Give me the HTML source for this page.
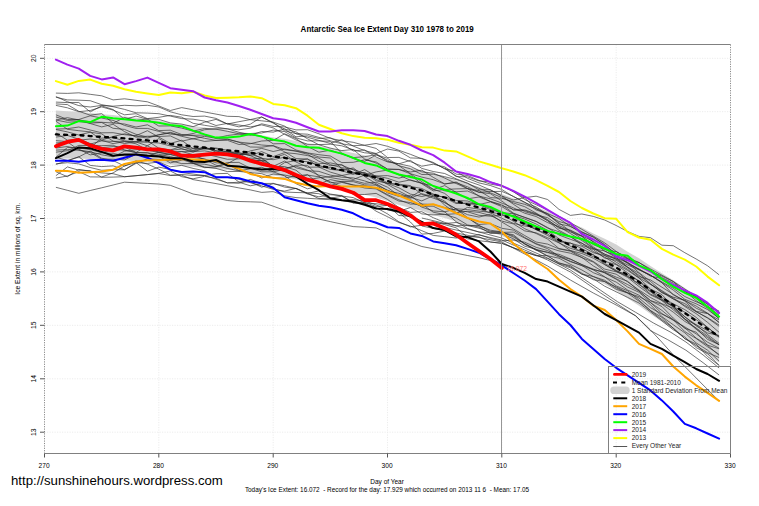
<!DOCTYPE html><html><head><meta charset="utf-8"><style>html,body{margin:0;padding:0;background:#fff;}svg{display:block;} text{font-family:"Liberation Sans",sans-serif;}</style></head><body>
<svg width="759" height="506" viewBox="0 0 759 506">
<rect width="759" height="506" fill="#fff"/>
<text transform="translate(387.2,31.5) scale(0.92,1)" x="0" y="0" font-size="8.7" font-weight="bold" text-anchor="middle" fill="#000">Antarctic Sea Ice Extent Day 310 1978 to 2019</text>
<g stroke="#ececec" stroke-width="1" stroke-dasharray="1.2,1.3"><line x1="44.5" y1="432.2" x2="730.5" y2="432.2"/><line x1="44.5" y1="378.8" x2="730.5" y2="378.8"/><line x1="44.5" y1="325.3" x2="730.5" y2="325.3"/><line x1="44.5" y1="271.9" x2="730.5" y2="271.9"/><line x1="44.5" y1="218.5" x2="730.5" y2="218.5"/><line x1="44.5" y1="165.1" x2="730.5" y2="165.1"/><line x1="44.5" y1="111.7" x2="730.5" y2="111.7"/><line x1="44.5" y1="58.3" x2="730.5" y2="58.3"/><line x1="158.8" y1="44.5" x2="158.8" y2="453.5"/><line x1="273.2" y1="44.5" x2="273.2" y2="453.5"/><line x1="387.5" y1="44.5" x2="387.5" y2="453.5"/><line x1="501.8" y1="44.5" x2="501.8" y2="453.5"/><line x1="616.2" y1="44.5" x2="616.2" y2="453.5"/></g>
<polygon points="55.9,110.4 67.4,111.2 78.8,111.8 90.2,113.1 101.7,114.2 113.1,115.1 124.5,116.4 136.0,117.7 147.4,119.1 158.8,120.4 170.3,123.0 181.7,124.6 193.1,126.0 204.6,127.5 216.0,129.1 227.4,130.5 238.9,131.7 250.3,133.2 261.7,135.2 273.2,137.5 284.6,138.7 296.0,141.0 307.5,143.5 318.9,146.0 330.3,148.3 341.8,150.6 353.2,153.0 364.6,155.2 376.1,157.6 387.5,161.0 398.9,164.9 410.4,167.5 421.8,170.2 433.2,174.1 444.7,177.0 456.1,180.4 467.5,183.8 479.0,186.7 490.4,190.1 501.8,194.0 513.3,198.3 524.7,202.6 536.1,206.9 547.6,211.2 559.0,218.0 570.4,223.0 581.9,227.6 593.3,233.4 604.7,238.7 616.2,244.5 627.6,251.7 639.0,258.3 650.5,266.0 661.9,273.2 673.3,280.3 684.8,288.0 696.2,295.7 707.6,303.3 719.1,310.5 719.1,362.5 707.6,354.7 696.2,346.3 684.8,338.0 673.3,329.7 661.9,321.8 650.5,314.0 639.0,305.7 627.6,298.3 616.2,290.5 604.7,284.3 593.3,278.6 581.9,272.4 570.4,267.4 559.0,262.0 547.6,254.8 536.1,250.1 524.7,245.4 513.3,240.7 501.8,236.0 490.4,231.9 479.0,228.3 467.5,225.2 456.1,221.6 444.7,218.0 433.2,214.9 421.8,210.8 410.4,207.9 398.9,205.1 387.5,201.0 376.1,197.4 364.6,194.8 353.2,192.4 341.8,189.8 330.3,187.3 318.9,184.8 307.5,182.1 296.0,179.4 284.6,176.9 273.2,175.5 261.7,173.6 250.3,172.0 238.9,170.9 227.4,170.1 216.0,169.1 204.6,167.9 193.1,166.8 181.7,165.8 170.3,164.6 158.8,162.4 147.4,161.7 136.0,161.1 124.5,160.4 113.1,159.7 101.7,159.6 90.2,159.1 78.8,158.4 67.4,158.6 55.9,158.4" fill="#d3d3d3" stroke="none"/>
<g fill="none" stroke="#2a2a2a" stroke-width="0.65" stroke-linejoin="round"><polyline points="55.9,96.6 67.4,101.7 78.8,105.6 90.2,107.0 101.7,105.4 113.1,106.2 124.5,105.3 136.0,105.8 147.4,105.3 158.8,107.0 170.3,111.8 181.7,114.8 193.1,116.5 204.6,116.1 216.0,118.4 227.4,124.0 238.9,126.9 250.3,124.2 261.7,117.0 273.2,122.6 284.6,130.8 296.0,133.6 307.5,134.2 318.9,137.4 330.3,140.8 341.8,143.8 353.2,145.7 364.6,145.2 376.1,143.5 387.5,146.3 398.9,150.3 410.4,154.3 421.8,158.8 433.2,163.1 444.7,168.5 456.1,176.5 467.5,176.9 479.0,180.9 490.4,181.9 501.8,185.4 513.3,191.6 524.7,199.5 536.1,204.7 547.6,210.2 559.0,216.4 570.4,222.6 581.9,229.3 593.3,236.1 604.7,242.9 616.2,251.4 627.6,258.6 639.0,265.6 650.5,271.5 661.9,276.1 673.3,281.5 684.8,289.0 696.2,296.5 707.6,304.0 719.1,311.5"/><polyline points="55.9,93.1 67.4,93.4 78.8,92.8 90.2,94.3 101.7,95.8 113.1,99.9 124.5,98.8 136.0,100.3 147.4,101.8 158.8,106.0 170.3,110.5 181.7,107.6 193.1,109.8 204.6,112.0 216.0,114.1 227.4,116.3 238.9,116.6 250.3,119.7 261.7,120.8 273.2,122.1 284.6,126.1 296.0,133.8 307.5,137.3 318.9,140.4 330.3,143.4 341.8,139.6 353.2,146.1 364.6,150.6 376.1,153.5 387.5,149.0 398.9,151.1 410.4,157.9 421.8,158.4 433.2,162.4 444.7,168.9 456.1,171.4 467.5,178.3 479.0,182.9 490.4,185.5 501.8,189.5 513.3,196.6 524.7,202.1 536.1,210.0 547.6,213.5 559.0,218.5 570.4,226.5 581.9,232.4 593.3,237.1 604.7,245.3 616.2,254.0 627.6,259.1 639.0,262.7 650.5,268.9 661.9,275.2 673.3,281.5 684.8,291.7 696.2,296.5 707.6,306.9 719.1,311.5"/><polyline points="55.9,97.2 67.4,99.9 78.8,100.2 90.2,100.7 101.7,104.7 113.1,106.7 124.5,109.4 136.0,112.8 147.4,113.1 158.8,113.7 170.3,116.1 181.7,118.6 193.1,119.2 204.6,121.1 216.0,125.5 227.4,123.4 238.9,125.0 250.3,126.9 261.7,124.9 273.2,127.9 284.6,134.3 296.0,140.0 307.5,144.3 318.9,144.6 330.3,144.2 341.8,145.8 353.2,149.8 364.6,152.8 376.1,153.7 387.5,161.4 398.9,163.8 410.4,166.3 421.8,171.9 433.2,173.1 444.7,178.1 456.1,183.5 467.5,188.6 479.0,190.6 490.4,197.6 501.8,198.3 513.3,201.5 524.7,204.3 536.1,208.7 547.6,215.2 559.0,221.5 570.4,224.7 581.9,231.8 593.3,237.0 604.7,244.5 616.2,254.2 627.6,263.7 639.0,268.9 650.5,276.1 661.9,278.5 673.3,284.9 684.8,290.8 696.2,296.6 707.6,304.4 719.1,313.0"/><polyline points="55.9,103.9 67.4,104.6 78.8,111.3 90.2,115.2 101.7,113.6 113.1,123.2 124.5,117.5 136.0,120.4 147.4,118.9 158.8,119.4 170.3,122.9 181.7,124.1 193.1,126.7 204.6,122.2 216.0,119.4 227.4,124.0 238.9,121.7 250.3,119.6 261.7,117.0 273.2,123.1 284.6,129.1 296.0,136.8 307.5,135.8 318.9,138.5 330.3,137.7 341.8,143.4 353.2,151.0 364.6,149.9 376.1,157.0 387.5,161.9 398.9,163.8 410.4,160.4 421.8,168.4 433.2,171.5 444.7,173.5 456.1,178.8 467.5,183.1 479.0,189.9 490.4,189.7 501.8,195.9 513.3,204.2 524.7,211.7 536.1,214.9 547.6,217.7 559.0,225.6 570.4,230.7 581.9,236.2 593.3,244.6 604.7,249.5 616.2,251.7 627.6,257.8 639.0,262.4 650.5,270.1 661.9,277.6 673.3,283.1 684.8,291.0 696.2,300.7 707.6,308.3 719.1,318.7"/><polyline points="55.9,105.4 67.4,107.8 78.8,111.7 90.2,110.5 101.7,106.9 113.1,110.1 124.5,114.8 136.0,113.7 147.4,118.6 158.8,117.3 170.3,115.4 181.7,117.2 193.1,123.3 204.6,125.3 216.0,127.1 227.4,128.9 238.9,129.8 250.3,128.2 261.7,123.8 273.2,126.4 284.6,126.9 296.0,129.9 307.5,129.7 318.9,133.8 330.3,138.4 341.8,140.7 353.2,142.3 364.6,145.4 376.1,148.4 387.5,157.5 398.9,157.4 410.4,161.6 421.8,166.2 433.2,164.2 444.7,166.9 456.1,174.1 467.5,175.5 479.0,180.4 490.4,184.1 501.8,186.1 513.3,191.6 524.7,198.1 536.1,208.6 547.6,213.7 559.0,224.0 570.4,226.2 581.9,232.9 593.3,242.1 604.7,251.2 616.2,255.8 627.6,262.7 639.0,269.5 650.5,275.3 661.9,281.9 673.3,288.3 684.8,296.5 696.2,301.8 707.6,306.1 719.1,315.2"/><polyline points="55.9,102.1 67.4,102.6 78.8,102.5 90.2,111.9 101.7,105.9 113.1,109.5 124.5,119.5 136.0,116.1 147.4,119.2 158.8,126.0 170.3,125.9 181.7,128.1 193.1,131.2 204.6,128.4 216.0,129.2 227.4,131.3 238.9,133.8 250.3,133.5 261.7,133.0 273.2,130.1 284.6,131.6 296.0,137.9 307.5,140.9 318.9,140.8 330.3,141.4 341.8,153.3 353.2,158.5 364.6,161.5 376.1,154.9 387.5,160.2 398.9,165.6 410.4,173.7 421.8,177.1 433.2,179.7 444.7,184.0 456.1,182.0 467.5,188.5 479.0,192.3 490.4,193.7 501.8,200.9 513.3,210.1 524.7,210.6 536.1,214.3 547.6,220.4 559.0,227.2 570.4,232.0 581.9,236.3 593.3,246.9 604.7,254.3 616.2,258.1 627.6,262.7 639.0,272.6 650.5,281.4 661.9,291.4 673.3,299.0 684.8,303.6 696.2,311.3 707.6,313.6 719.1,319.9"/><polyline points="55.9,116.9 67.4,120.5 78.8,119.9 90.2,121.8 101.7,122.3 113.1,123.0 124.5,124.0 136.0,127.0 147.4,124.8 158.8,130.6 170.3,130.2 181.7,134.5 193.1,135.7 204.6,138.3 216.0,140.4 227.4,140.3 238.9,144.5 250.3,143.7 261.7,141.0 273.2,140.4 284.6,133.8 296.0,138.6 307.5,146.4 318.9,152.2 330.3,150.2 341.8,154.0 353.2,157.6 364.6,156.7 376.1,154.6 387.5,158.3 398.9,165.7 410.4,168.8 421.8,174.5 433.2,174.2 444.7,176.7 456.1,179.5 467.5,183.4 479.0,188.3 490.4,192.9 501.8,197.5 513.3,202.9 524.7,206.7 536.1,213.1 547.6,219.6 559.0,228.3 570.4,230.1 581.9,235.8 593.3,241.4 604.7,248.4 616.2,256.5 627.6,262.4 639.0,269.4 650.5,275.1 661.9,282.7 673.3,295.0 684.8,300.5 696.2,306.1 707.6,313.2 719.1,322.5"/><polyline points="55.9,114.8 67.4,119.5 78.8,119.5 90.2,115.8 101.7,118.0 113.1,120.4 124.5,125.4 136.0,128.4 147.4,128.4 158.8,131.4 170.3,134.1 181.7,134.9 193.1,135.3 204.6,135.0 216.0,138.1 227.4,135.5 238.9,134.1 250.3,135.1 261.7,131.5 273.2,132.1 284.6,129.0 296.0,131.9 307.5,138.8 318.9,144.8 330.3,148.1 341.8,150.6 353.2,149.5 364.6,159.0 376.1,163.1 387.5,169.2 398.9,169.5 410.4,172.0 421.8,170.2 433.2,177.3 444.7,183.9 456.1,182.7 467.5,186.8 479.0,192.3 490.4,191.5 501.8,191.4 513.3,196.3 524.7,202.5 536.1,206.9 547.6,214.7 559.0,222.9 570.4,231.1 581.9,238.9 593.3,248.0 604.7,255.5 616.2,259.0 627.6,265.0 639.0,269.9 650.5,275.3 661.9,282.6 673.3,290.1 684.8,299.3 696.2,303.8 707.6,309.6 719.1,318.3"/><polyline points="55.9,120.0 67.4,122.3 78.8,121.5 90.2,123.1 101.7,122.5 113.1,128.3 124.5,129.4 136.0,134.3 147.4,137.0 158.8,134.8 170.3,132.3 181.7,135.6 193.1,133.5 204.6,129.7 216.0,128.8 227.4,128.8 238.9,132.3 250.3,134.8 261.7,136.3 273.2,143.8 284.6,143.6 296.0,150.0 307.5,152.9 318.9,154.7 330.3,156.0 341.8,162.6 353.2,162.3 364.6,159.8 376.1,161.9 387.5,169.1 398.9,169.4 410.4,173.8 421.8,181.7 433.2,189.1 444.7,193.4 456.1,202.7 467.5,203.8 479.0,204.6 490.4,201.9 501.8,206.6 513.3,213.7 524.7,217.2 536.1,221.4 547.6,227.5 559.0,235.0 570.4,239.3 581.9,243.3 593.3,248.9 604.7,250.9 616.2,257.5 627.6,267.2 639.0,276.6 650.5,279.9 661.9,287.2 673.3,294.3 684.8,301.1 696.2,311.6 707.6,318.1 719.1,326.3"/><polyline points="55.9,120.0 67.4,117.7 78.8,119.9 90.2,123.5 101.7,126.9 113.1,124.3 124.5,131.6 136.0,137.2 147.4,136.2 158.8,136.5 170.3,135.9 181.7,141.2 193.1,138.7 204.6,141.4 216.0,140.4 227.4,139.3 238.9,142.2 250.3,147.0 261.7,147.2 273.2,145.6 284.6,149.7 296.0,151.2 307.5,154.3 318.9,161.2 330.3,165.7 341.8,164.6 353.2,173.0 364.6,173.0 376.1,176.0 387.5,175.6 398.9,178.2 410.4,175.1 421.8,183.8 433.2,190.9 444.7,189.5 456.1,188.9 467.5,188.6 479.0,196.1 490.4,198.8 501.8,203.0 513.3,207.8 524.7,213.2 536.1,216.5 547.6,222.6 559.0,226.8 570.4,233.5 581.9,240.6 593.3,248.3 604.7,254.1 616.2,259.2 627.6,267.0 639.0,273.3 650.5,283.9 661.9,292.4 673.3,299.0 684.8,305.5 696.2,311.7 707.6,317.7 719.1,325.0"/><polyline points="55.9,129.5 67.4,131.9 78.8,135.0 90.2,132.2 101.7,133.9 113.1,141.1 124.5,143.5 136.0,141.9 147.4,142.3 158.8,143.0 170.3,145.9 181.7,147.1 193.1,148.4 204.6,149.1 216.0,148.6 227.4,152.4 238.9,155.4 250.3,150.9 261.7,148.4 273.2,151.5 284.6,149.0 296.0,151.0 307.5,153.2 318.9,157.0 330.3,158.0 341.8,168.6 353.2,172.2 364.6,175.3 376.1,171.9 387.5,170.1 398.9,174.9 410.4,180.3 421.8,183.0 433.2,189.6 444.7,185.6 456.1,192.3 467.5,198.8 479.0,197.0 490.4,201.5 501.8,205.5 513.3,209.3 524.7,209.9 536.1,213.6 547.6,220.8 559.0,230.4 570.4,236.4 581.9,245.2 593.3,249.5 604.7,258.0 616.2,260.3 627.6,267.5 639.0,275.3 650.5,283.9 661.9,292.7 673.3,297.2 684.8,300.3 696.2,308.2 707.6,313.5 719.1,322.4"/><polyline points="55.9,121.2 67.4,129.3 78.8,130.7 90.2,131.9 101.7,140.0 113.1,136.5 124.5,133.8 136.0,136.1 147.4,138.2 158.8,134.8 170.3,133.0 181.7,136.3 193.1,138.9 204.6,136.3 216.0,138.3 227.4,139.0 238.9,142.1 250.3,143.3 261.7,145.0 273.2,145.9 284.6,151.8 296.0,158.6 307.5,159.0 318.9,163.8 330.3,162.9 341.8,165.2 353.2,169.8 364.6,176.0 376.1,176.0 387.5,178.3 398.9,182.2 410.4,179.9 421.8,183.4 433.2,185.8 444.7,190.8 456.1,191.8 467.5,191.0 479.0,195.9 490.4,201.4 501.8,204.7 513.3,213.0 524.7,217.6 536.1,221.5 547.6,228.0 559.0,231.8 570.4,236.8 581.9,243.1 593.3,251.5 604.7,257.2 616.2,264.1 627.6,270.4 639.0,278.1 650.5,289.0 661.9,294.6 673.3,306.7 684.8,312.2 696.2,319.6 707.6,327.4 719.1,336.7"/><polyline points="55.9,129.1 67.4,128.7 78.8,127.0 90.2,130.0 101.7,132.8 113.1,132.7 124.5,134.7 136.0,135.7 147.4,130.7 158.8,137.1 170.3,143.4 181.7,140.3 193.1,148.7 204.6,148.6 216.0,148.0 227.4,150.3 238.9,155.2 250.3,152.8 261.7,158.3 273.2,159.7 284.6,157.2 296.0,161.0 307.5,161.7 318.9,165.4 330.3,169.3 341.8,170.7 353.2,167.9 364.6,176.5 376.1,183.6 387.5,190.8 398.9,193.3 410.4,197.3 421.8,200.9 433.2,195.7 444.7,196.9 456.1,200.4 467.5,201.0 479.0,204.6 490.4,209.7 501.8,212.6 513.3,213.8 524.7,223.0 536.1,229.7 547.6,234.0 559.0,241.8 570.4,243.0 581.9,248.6 593.3,254.8 604.7,264.4 616.2,271.3 627.6,277.4 639.0,286.5 650.5,294.9 661.9,300.4 673.3,306.4 684.8,319.4 696.2,324.7 707.6,330.6 719.1,337.2"/><polyline points="55.9,132.9 67.4,140.2 78.8,139.6 90.2,144.1 101.7,140.9 113.1,141.4 124.5,141.3 136.0,142.0 147.4,145.8 158.8,152.0 170.3,150.4 181.7,149.0 193.1,150.9 204.6,148.3 216.0,151.0 227.4,153.5 238.9,153.0 250.3,155.6 261.7,151.6 273.2,156.6 284.6,152.6 296.0,153.7 307.5,155.6 318.9,158.2 330.3,164.6 341.8,167.7 353.2,169.2 364.6,173.6 376.1,180.8 387.5,183.4 398.9,187.8 410.4,194.1 421.8,196.5 433.2,194.1 444.7,205.1 456.1,213.3 467.5,207.4 479.0,209.1 490.4,212.9 501.8,218.3 513.3,223.3 524.7,226.0 536.1,227.2 547.6,231.9 559.0,240.8 570.4,243.2 581.9,246.3 593.3,252.7 604.7,255.5 616.2,262.1 627.6,269.3 639.0,277.7 650.5,284.5 661.9,290.6 673.3,297.9 684.8,306.5 696.2,313.7 707.6,322.4 719.1,332.3"/><polyline points="55.9,144.7 67.4,140.9 78.8,139.2 90.2,143.5 101.7,147.7 113.1,146.6 124.5,147.1 136.0,152.4 147.4,145.8 158.8,138.6 170.3,145.1 181.7,148.7 193.1,152.2 204.6,147.9 216.0,150.6 227.4,151.6 238.9,152.5 250.3,155.6 261.7,160.6 273.2,170.1 284.6,162.6 296.0,160.6 307.5,159.0 318.9,167.1 330.3,167.3 341.8,170.7 353.2,174.5 364.6,169.6 376.1,176.5 387.5,182.9 398.9,185.1 410.4,186.4 421.8,188.5 433.2,194.1 444.7,197.8 456.1,203.5 467.5,203.0 479.0,204.1 490.4,208.3 501.8,213.1 513.3,216.2 524.7,224.4 536.1,229.5 547.6,235.5 559.0,242.7 570.4,250.5 581.9,253.5 593.3,258.2 604.7,264.7 616.2,271.0 627.6,274.7 639.0,280.7 650.5,289.5 661.9,297.4 673.3,303.8 684.8,309.6 696.2,317.4 707.6,327.4 719.1,336.6"/><polyline points="55.9,137.1 67.4,135.4 78.8,139.2 90.2,147.9 101.7,138.1 113.1,137.6 124.5,140.9 136.0,141.7 147.4,140.8 158.8,148.2 170.3,150.0 181.7,146.3 193.1,150.4 204.6,146.5 216.0,152.3 227.4,151.9 238.9,153.8 250.3,159.4 261.7,161.1 273.2,158.1 284.6,154.3 296.0,162.0 307.5,167.2 318.9,167.1 330.3,172.1 341.8,175.4 353.2,179.5 364.6,175.0 376.1,177.3 387.5,184.4 398.9,191.0 410.4,196.9 421.8,190.3 433.2,195.8 444.7,201.0 456.1,212.6 467.5,211.2 479.0,212.4 490.4,215.5 501.8,221.1 513.3,223.9 524.7,230.9 536.1,232.8 547.6,237.7 559.0,242.9 570.4,248.3 581.9,251.7 593.3,254.8 604.7,263.3 616.2,270.2 627.6,276.4 639.0,284.0 650.5,294.1 661.9,299.6 673.3,307.2 684.8,316.7 696.2,325.9 707.6,333.0 719.1,335.5"/><polyline points="55.9,143.0 67.4,141.9 78.8,150.0 90.2,151.7 101.7,154.8 113.1,156.8 124.5,151.2 136.0,149.7 147.4,148.9 158.8,152.2 170.3,151.5 181.7,151.6 193.1,151.6 204.6,150.9 216.0,152.8 227.4,155.2 238.9,154.3 250.3,154.2 261.7,157.8 273.2,166.4 284.6,168.2 296.0,166.1 307.5,170.1 318.9,175.2 330.3,177.5 341.8,179.5 353.2,180.5 364.6,183.3 376.1,182.2 387.5,187.2 398.9,195.8 410.4,199.5 421.8,207.1 433.2,210.9 444.7,211.8 456.1,209.0 467.5,214.7 479.0,217.1 490.4,214.2 501.8,222.0 513.3,228.8 524.7,235.5 536.1,242.0 547.6,244.1 559.0,248.9 570.4,251.2 581.9,257.7 593.3,262.1 604.7,271.2 616.2,274.2 627.6,281.8 639.0,290.0 650.5,297.5 661.9,303.7 673.3,308.3 684.8,318.8 696.2,328.5 707.6,339.4 719.1,344.6"/><polyline points="55.9,157.2 67.4,147.5 78.8,147.9 90.2,149.6 101.7,152.7 113.1,149.5 124.5,150.2 136.0,152.5 147.4,152.9 158.8,156.2 170.3,162.9 181.7,160.2 193.1,155.3 204.6,159.4 216.0,165.2 227.4,168.4 238.9,170.9 250.3,168.8 261.7,167.3 273.2,171.8 284.6,169.4 296.0,165.2 307.5,165.4 318.9,176.3 330.3,182.9 341.8,181.4 353.2,181.7 364.6,184.9 376.1,185.2 387.5,192.9 398.9,196.4 410.4,195.6 421.8,204.1 433.2,204.4 444.7,207.5 456.1,210.1 467.5,211.8 479.0,215.3 490.4,216.2 501.8,215.4 513.3,215.5 524.7,219.0 536.1,224.0 547.6,230.4 559.0,238.8 570.4,246.2 581.9,251.9 593.3,256.6 604.7,261.3 616.2,264.6 627.6,272.8 639.0,281.6 650.5,291.2 661.9,298.9 673.3,306.5 684.8,316.9 696.2,324.9 707.6,334.6 719.1,343.3"/><polyline points="55.9,148.0 67.4,146.5 78.8,149.1 90.2,154.9 101.7,152.9 113.1,153.3 124.5,155.9 136.0,154.4 147.4,155.1 158.8,155.8 170.3,153.9 181.7,151.5 193.1,154.6 204.6,153.9 216.0,156.5 227.4,159.3 238.9,158.9 250.3,158.1 261.7,158.7 273.2,166.3 284.6,161.1 296.0,167.8 307.5,170.6 318.9,171.4 330.3,175.1 341.8,177.2 353.2,177.9 364.6,180.9 376.1,184.7 387.5,190.1 398.9,195.0 410.4,198.2 421.8,193.7 433.2,196.7 444.7,202.8 456.1,208.8 467.5,209.6 479.0,211.1 490.4,212.4 501.8,214.0 513.3,221.2 524.7,228.7 536.1,233.5 547.6,239.1 559.0,248.5 570.4,250.7 581.9,255.8 593.3,261.5 604.7,269.1 616.2,271.8 627.6,276.2 639.0,284.5 650.5,291.8 661.9,300.6 673.3,309.9 684.8,319.2 696.2,329.3 707.6,337.6 719.1,344.9"/><polyline points="55.9,140.6 67.4,141.6 78.8,140.2 90.2,139.0 101.7,140.4 113.1,143.6 124.5,141.7 136.0,143.8 147.4,150.1 158.8,152.6 170.3,154.4 181.7,156.3 193.1,157.4 204.6,158.9 216.0,162.8 227.4,163.7 238.9,157.4 250.3,160.3 261.7,160.4 273.2,166.3 284.6,166.6 296.0,170.2 307.5,179.7 318.9,177.8 330.3,176.6 341.8,175.5 353.2,173.2 364.6,172.5 376.1,179.5 387.5,183.5 398.9,184.2 410.4,185.6 421.8,194.3 433.2,198.1 444.7,202.3 456.1,208.9 467.5,217.5 479.0,225.8 490.4,230.2 501.8,231.9 513.3,235.9 524.7,243.9 536.1,250.3 547.6,252.1 559.0,257.0 570.4,261.2 581.9,265.7 593.3,269.7 604.7,272.1 616.2,277.1 627.6,281.3 639.0,291.0 650.5,300.7 661.9,306.5 673.3,318.1 684.8,328.4 696.2,332.2 707.6,345.4 719.1,355.3"/><polyline points="55.9,150.1 67.4,149.6 78.8,150.3 90.2,152.5 101.7,159.1 113.1,159.2 124.5,159.9 136.0,154.3 147.4,156.1 158.8,152.2 170.3,154.5 181.7,157.7 193.1,163.2 204.6,167.0 216.0,168.4 227.4,171.6 238.9,171.4 250.3,172.6 261.7,173.7 273.2,177.9 284.6,178.1 296.0,176.0 307.5,174.6 318.9,184.1 330.3,179.6 341.8,181.8 353.2,184.9 364.6,188.0 376.1,188.9 387.5,195.4 398.9,201.1 410.4,202.5 421.8,206.2 433.2,206.2 444.7,211.8 456.1,221.7 467.5,228.4 479.0,232.0 490.4,232.6 501.8,233.9 513.3,238.7 524.7,246.2 536.1,249.3 547.6,252.6 559.0,254.3 570.4,259.0 581.9,264.7 593.3,269.1 604.7,272.9 616.2,279.3 627.6,287.0 639.0,292.3 650.5,302.6 661.9,310.4 673.3,319.7 684.8,331.6 696.2,338.5 707.6,346.8 719.1,354.4"/><polyline points="55.9,152.2 67.4,150.7 78.8,145.4 90.2,145.6 101.7,145.7 113.1,145.2 124.5,150.0 136.0,152.6 147.4,152.8 158.8,154.3 170.3,156.6 181.7,159.4 193.1,163.4 204.6,167.7 216.0,166.8 227.4,163.8 238.9,170.6 250.3,172.6 261.7,178.0 273.2,174.0 284.6,175.0 296.0,177.4 307.5,175.1 318.9,176.8 330.3,181.8 341.8,186.8 353.2,194.4 364.6,194.5 376.1,193.4 387.5,199.4 398.9,207.5 410.4,212.4 421.8,211.7 433.2,217.7 444.7,222.4 456.1,225.7 467.5,225.6 479.0,228.2 490.4,232.2 501.8,232.4 513.3,232.1 524.7,238.1 536.1,244.1 547.6,248.7 559.0,256.1 570.4,259.3 581.9,264.5 593.3,269.8 604.7,276.8 616.2,285.9 627.6,290.8 639.0,300.1 650.5,310.7 661.9,319.6 673.3,328.1 684.8,338.7 696.2,345.7 707.6,352.7 719.1,357.5"/><polyline points="55.9,163.9 67.4,162.7 78.8,163.9 90.2,167.5 101.7,170.3 113.1,169.7 124.5,169.8 136.0,163.4 147.4,158.8 158.8,159.5 170.3,160.7 181.7,163.6 193.1,163.5 204.6,164.2 216.0,166.6 227.4,162.5 238.9,162.4 250.3,168.2 261.7,171.8 273.2,171.8 284.6,175.9 296.0,183.7 307.5,188.8 318.9,185.8 330.3,185.5 341.8,182.4 353.2,185.1 364.6,185.8 376.1,188.2 387.5,194.6 398.9,199.8 410.4,204.1 421.8,203.9 433.2,212.2 444.7,214.5 456.1,213.7 467.5,218.0 479.0,224.5 490.4,223.6 501.8,228.3 513.3,230.1 524.7,237.4 536.1,243.6 547.6,247.3 559.0,250.9 570.4,253.2 581.9,257.4 593.3,265.9 604.7,272.7 616.2,278.7 627.6,284.5 639.0,291.0 650.5,300.6 661.9,304.2 673.3,312.2 684.8,321.4 696.2,328.0 707.6,336.2 719.1,344.7"/><polyline points="55.9,157.3 67.4,160.5 78.8,156.9 90.2,151.0 101.7,158.2 113.1,160.5 124.5,166.1 136.0,160.9 147.4,164.1 158.8,169.1 170.3,175.2 181.7,174.5 193.1,175.5 204.6,175.5 216.0,179.2 227.4,182.8 238.9,183.3 250.3,179.4 261.7,183.5 273.2,183.4 284.6,187.1 296.0,188.5 307.5,194.0 318.9,196.8 330.3,194.7 341.8,195.5 353.2,203.1 364.6,203.7 376.1,207.6 387.5,213.9 398.9,221.8 410.4,226.9 421.8,225.2 433.2,221.7 444.7,224.6 456.1,227.8 467.5,237.1 479.0,234.5 490.4,238.5 501.8,240.9 513.3,240.0 524.7,242.2 536.1,247.3 547.6,250.6 559.0,255.8 570.4,261.7 581.9,265.5 593.3,272.7 604.7,277.1 616.2,282.1 627.6,290.0 639.0,295.2 650.5,304.7 661.9,316.6 673.3,324.8 684.8,332.8 696.2,342.9 707.6,350.2 719.1,361.2"/><polyline points="55.9,164.3 67.4,160.9 78.8,156.8 90.2,165.4 101.7,166.6 113.1,165.9 124.5,169.7 136.0,162.6 147.4,163.4 158.8,162.0 170.3,166.8 181.7,165.4 193.1,168.4 204.6,170.8 216.0,177.3 227.4,177.4 238.9,179.2 250.3,182.7 261.7,185.9 273.2,189.3 284.6,191.1 296.0,188.3 307.5,193.2 318.9,198.6 330.3,198.2 341.8,196.2 353.2,202.2 364.6,202.4 376.1,206.5 387.5,205.4 398.9,215.5 410.4,216.3 421.8,222.8 433.2,222.8 444.7,223.5 456.1,222.5 467.5,225.6 479.0,225.4 490.4,231.4 501.8,232.0 513.3,237.0 524.7,243.7 536.1,250.0 547.6,256.3 559.0,262.6 570.4,266.9 581.9,273.1 593.3,279.7 604.7,281.6 616.2,286.9 627.6,292.6 639.0,298.1 650.5,307.7 661.9,314.1 673.3,319.7 684.8,327.7 696.2,338.1 707.6,345.2 719.1,348.8"/><polyline points="55.9,178.1 67.4,176.0 78.8,171.6 90.2,176.9 101.7,177.0 113.1,172.9 124.5,165.9 136.0,162.5 147.4,171.2 158.8,167.1 170.3,169.5 181.7,172.5 193.1,174.1 204.6,175.5 216.0,173.7 227.4,173.4 238.9,182.0 250.3,181.8 261.7,187.2 273.2,183.7 284.6,185.7 296.0,188.6 307.5,193.4 318.9,190.9 330.3,194.0 341.8,196.0 353.2,197.6 364.6,202.8 376.1,203.7 387.5,205.5 398.9,211.4 410.4,207.5 421.8,213.9 433.2,214.9 444.7,214.3 456.1,218.0 467.5,224.9 479.0,226.9 490.4,233.5 501.8,232.9 513.3,234.7 524.7,243.9 536.1,249.4 547.6,255.8 559.0,258.2 570.4,264.3 581.9,270.0 593.3,276.6 604.7,281.6 616.2,289.3 627.6,292.9 639.0,296.6 650.5,302.4 661.9,313.5 673.3,320.3 684.8,326.9 696.2,333.9 707.6,342.2 719.1,348.2"/><polyline points="55.9,171.7 67.4,176.7 78.8,169.4 90.2,171.3 101.7,172.9 113.1,173.7 124.5,176.8 136.0,175.7 147.4,174.6 158.8,173.3 170.3,171.0 181.7,176.7 193.1,178.8 204.6,176.3 216.0,178.3 227.4,182.9 238.9,182.2 250.3,185.8 261.7,183.7 273.2,188.6 284.6,192.0 296.0,192.5 307.5,192.8 318.9,193.7 330.3,198.6 341.8,200.4 353.2,199.7 364.6,200.9 376.1,205.0 387.5,209.8 398.9,212.6 410.4,222.0 421.8,234.1 433.2,233.4 444.7,231.0 456.1,233.5 467.5,238.8 479.0,240.7 490.4,242.0 501.8,243.3 513.3,247.7 524.7,252.0 536.1,255.6 547.6,258.6 559.0,263.9 570.4,267.8 581.9,274.2 593.3,278.8 604.7,286.2 616.2,291.8 627.6,297.4 639.0,303.0 650.5,311.9 661.9,320.8 673.3,329.8 684.8,337.0 696.2,347.6 707.6,353.7 719.1,365.4"/><polyline points="55.9,175.7 67.4,166.9 78.8,170.2 90.2,170.6 101.7,177.3 113.1,177.1 124.5,176.7 136.0,175.7 147.4,174.6 158.8,173.5 170.3,175.5 181.7,175.3 193.1,179.6 204.6,181.6 216.0,183.6 227.4,185.7 238.9,187.9 250.3,189.9 261.7,192.4 273.2,191.6 284.6,195.8 296.0,197.6 307.5,198.3 318.9,199.0 330.3,199.7 341.8,200.4 353.2,202.7 364.6,203.0 376.1,211.2 387.5,216.7 398.9,222.5 410.4,226.1 421.8,230.7 433.2,235.4 444.7,236.7 456.1,238.0 467.5,236.9 479.0,236.8 490.4,242.0 501.8,243.3 513.3,247.7 524.7,252.0 536.1,255.6 547.6,255.6 559.0,263.2 570.4,265.6 581.9,274.2 593.3,276.5 604.7,280.3 616.2,287.8 627.6,293.1 639.0,301.2 650.5,310.5 661.9,317.4 673.3,328.3 684.8,338.7 696.2,344.0 707.6,356.5 719.1,365.4"/><polyline points="55.9,187.3 67.4,190.3 78.8,193.3 90.2,190.5 101.7,187.8 113.1,185.0 124.5,182.2 136.0,182.8 147.4,183.4 158.8,184.0 170.3,185.3 181.7,189.6 193.1,194.0 204.6,196.0 216.0,198.0 227.4,200.5 238.9,201.5 250.3,201.8 261.7,202.2 273.2,206.2 284.6,210.3 296.0,213.2 307.5,216.1 318.9,219.1 330.3,221.6 341.8,224.1 353.2,226.6 364.6,227.2 376.1,227.9 387.5,232.9 398.9,237.9 410.4,242.3 421.8,246.5 433.2,248.7 444.7,251.0 456.1,253.2 467.5,255.5 479.0,257.7 490.4,260.5 501.8,263.0"/><polyline points="444.7,168.0 456.1,176.0 467.5,181.0 479.0,185.0 490.4,190.0 501.8,196.0 513.3,200.0 524.7,197.6 536.1,196.2 547.6,199.5 559.0,209.4 570.4,215.4 581.9,214.0 593.3,216.4 604.7,220.0 616.2,225.5 627.6,231.5 639.0,236.4 650.5,237.7 661.9,245.2 673.3,245.7 684.8,252.7 696.2,259.0 707.6,265.8 719.1,274.8"/><polyline points="421.8,218.0 456.1,226.0 501.8,238.0 524.7,248.0 547.6,258.0 570.4,270.0 600.2,290.0 617.3,301.6 635.6,312.3 653.3,322.9 671.0,332.4 685.9,342.0 703.1,355.0 719.1,368.0"/><polyline points="421.8,222.0 456.1,230.0 501.8,240.0 524.7,250.0 547.6,260.0 570.4,272.0 600.2,292.7 617.3,304.0 635.6,315.8 650.5,330.7 667.6,339.6 685.9,350.2 703.1,362.7 719.1,375.0"/><polyline points="421.8,226.0 456.1,233.0 501.8,242.0 524.7,254.0 547.6,266.0 570.4,280.0 593.3,293.0 616.2,305.0 635.6,315.8 650.5,330.0 660.8,341.0 673.3,355.0 689.3,371.0 703.1,385.0 719.1,401.0"/></g>
<polyline points="55.9,81.1 67.4,84.7 78.8,80.9 90.2,79.6 101.7,83.7 113.1,85.7 124.5,89.2 136.0,91.7 147.4,93.4 158.8,95.0 170.3,92.4 181.7,93.2 193.1,91.7 204.6,95.5 216.0,98.0 227.4,97.7 238.9,97.2 250.3,96.4 261.7,98.2 273.2,103.9 284.6,105.2 296.0,108.2 307.5,115.7 318.9,124.8 330.3,129.0 341.8,133.3 353.2,136.1 364.6,137.8 376.1,138.3 387.5,139.8 398.9,142.8 410.4,144.8 421.8,147.3 433.2,147.6 444.7,150.6 456.1,151.4 467.5,156.4 479.0,161.4 490.4,164.7 501.8,168.2 513.3,171.5 524.7,175.2 536.1,180.2 547.6,185.8 559.0,192.0 570.4,201.0 581.9,208.0 593.3,213.5 604.7,218.2 616.2,218.8 627.6,232.1 639.0,237.5 650.5,239.7 661.9,248.9 673.3,254.7 684.8,259.7 696.2,266.5 707.6,276.6 719.1,285.3" fill="none" stroke="#ffff00" stroke-width="2.0" stroke-linejoin="round" stroke-linecap="round" />
<polyline points="55.9,59.6 67.4,64.6 78.8,68.6 90.2,75.9 101.7,79.4 113.1,77.4 124.5,84.2 136.0,81.1 147.4,77.6 158.8,82.9 170.3,88.2 181.7,89.7 193.1,91.2 204.6,97.5 216.0,100.2 227.4,102.5 238.9,106.0 250.3,109.7 261.7,114.0 273.2,118.2 284.6,119.7 296.0,122.8 307.5,127.3 318.9,131.5 330.3,131.5 341.8,130.3 353.2,130.3 364.6,131.0 376.1,134.5 387.5,136.1 398.9,140.8 410.4,144.8 421.8,150.5 433.2,155.1 444.7,162.7 456.1,171.5 467.5,174.0 479.0,177.2 490.4,182.2 501.8,185.8 513.3,190.8 524.7,196.6 536.1,202.8 547.6,209.9 559.0,216.6 570.4,222.9 581.9,234.0 593.3,239.5 604.7,246.0 616.2,256.5 627.6,260.2 639.0,265.8 650.5,271.5 661.9,279.1 673.3,284.8 684.8,290.4 696.2,295.4 707.6,302.9 719.1,313.0" fill="none" stroke="#a020f0" stroke-width="2.0" stroke-linejoin="round" stroke-linecap="round" />
<polyline points="55.9,126.3 67.4,125.6 78.8,121.1 90.2,122.1 101.7,116.8 113.1,118.3 124.5,119.3 136.0,120.6 147.4,121.3 158.8,122.8 170.3,125.1 181.7,126.3 193.1,130.6 204.6,134.4 216.0,137.6 227.4,137.4 238.9,136.6 250.3,134.0 261.7,136.6 273.2,139.8 284.6,141.6 296.0,145.8 307.5,147.3 318.9,147.8 330.3,150.9 341.8,153.6 353.2,157.9 364.6,162.9 376.1,165.4 387.5,170.5 398.9,174.5 410.4,177.0 421.8,179.5 433.2,186.0 444.7,189.8 456.1,193.5 467.5,198.0 479.0,204.3 490.4,207.0 501.8,212.3 513.3,216.5 524.7,221.5 536.1,226.5 547.6,230.9 559.0,233.7 570.4,236.5 581.9,239.0 593.3,243.5 604.7,248.5 616.2,254.0 627.6,255.7 639.0,265.3 650.5,270.3 661.9,279.1 673.3,286.6 684.8,292.9 696.2,297.9 707.6,306.7 719.1,316.7" fill="none" stroke="#00ff00" stroke-width="2.0" stroke-linejoin="round" stroke-linecap="round" />
<polyline points="55.9,160.7 67.4,160.7 78.8,161.7 90.2,160.2 101.7,159.7 113.1,160.7 124.5,157.7 136.0,154.4 147.4,157.7 158.8,163.2 170.3,169.7 181.7,172.0 193.1,171.5 204.6,172.2 216.0,177.2 227.4,177.2 238.9,178.2 250.3,181.4 261.7,183.2 273.2,187.7 284.6,197.2 296.0,200.2 307.5,203.3 318.9,205.8 330.3,207.3 341.8,209.8 353.2,213.3 364.6,219.1 376.1,222.8 387.5,227.3 398.9,227.9 410.4,233.4 421.8,235.9 433.2,241.4 444.7,243.2 456.1,245.2 467.5,248.9 479.0,252.7 490.4,259.0 501.8,265.3 513.3,273.0 524.7,280.5 536.1,289.1 547.6,301.7 559.0,314.2 570.4,325.0 581.9,338.9 593.3,348.9 604.7,359.0 616.2,367.8 627.6,375.3 639.0,382.8 650.5,390.4 661.9,400.4 673.3,411.5 684.8,423.9 696.2,428.3 707.6,433.5 719.1,438.7" fill="none" stroke="#0000ff" stroke-width="2.0" stroke-linejoin="round" stroke-linecap="round" />
<polyline points="55.9,170.7 67.4,171.0 78.8,172.7 90.2,172.2 101.7,171.5 113.1,169.7 124.5,163.9 136.0,161.4 147.4,160.2 158.8,160.2 170.3,159.4 181.7,158.9 193.1,159.4 204.6,160.2 216.0,160.7 227.4,164.7 238.9,168.6 250.3,173.9 261.7,176.4 273.2,177.7 284.6,178.9 296.0,182.7 307.5,185.2 318.9,186.4 330.3,185.9 341.8,186.4 353.2,186.4 364.6,186.4 376.1,187.7 387.5,191.5 398.9,195.5 410.4,200.4 421.8,205.7 433.2,204.2 444.7,207.9 456.1,213.0 467.5,218.0 479.0,221.5 490.4,223.6 501.8,231.5 513.3,243.5 524.7,252.7 536.1,261.5 547.6,269.0 559.0,279.8 570.4,289.1 581.9,296.6 593.3,305.8 604.7,310.0 616.2,320.1 627.6,331.4 639.0,343.9 650.5,348.9 661.9,354.0 673.3,366.5 684.8,376.6 696.2,385.3 707.6,392.9 719.1,400.9" fill="none" stroke="#ffa500" stroke-width="2.0" stroke-linejoin="round" stroke-linecap="round" />
<polyline points="55.9,158.2 67.4,153.2 78.8,147.4 90.2,148.2 101.7,151.9 113.1,155.7 124.5,154.4 136.0,154.4 147.4,155.7 158.8,156.5 170.3,158.2 181.7,158.2 193.1,161.5 204.6,162.0 216.0,160.0 227.4,165.7 238.9,166.4 250.3,168.1 261.7,169.6 273.2,168.9 284.6,170.1 296.0,176.4 307.5,183.9 318.9,190.2 330.3,198.2 341.8,200.2 353.2,201.5 364.6,204.8 376.1,208.5 387.5,209.0 398.9,211.5 410.4,216.6 421.8,222.0 433.2,228.1 444.7,230.1 456.1,236.4 467.5,237.1 479.0,241.4 490.4,251.5 501.8,264.0 513.3,267.8 524.7,272.8 536.1,279.1 547.6,281.6 559.0,286.6 570.4,291.6 581.9,296.6 593.3,305.2 604.7,314.0 616.2,320.1 627.6,326.4 639.0,332.6 650.5,343.9 661.9,348.9 673.3,355.7 684.8,362.2 696.2,369.0 707.6,374.0 719.1,380.8" fill="none" stroke="#000000" stroke-width="2.0" stroke-linejoin="round" stroke-linecap="round" />
<polyline points="55.9,134.4 67.4,134.9 78.8,135.1 90.2,136.1 101.7,136.9 113.1,137.4 124.5,138.4 136.0,139.4 147.4,140.4 158.8,141.4 170.3,143.8 181.7,145.2 193.1,146.4 204.6,147.7 216.0,149.1 227.4,150.3 238.9,151.3 250.3,152.6 261.7,154.4 273.2,156.5 284.6,157.8 296.0,160.2 307.5,162.8 318.9,165.4 330.3,167.8 341.8,170.2 353.2,172.7 364.6,175.0 376.1,177.5 387.5,181.0 398.9,185.0 410.4,187.7 421.8,190.5 433.2,194.5 444.7,197.5 456.1,201.0 467.5,204.5 479.0,207.5 490.4,211.0 501.8,215.0 513.3,219.5 524.7,224.0 536.1,228.5 547.6,233.0 559.0,240.0 570.4,245.2 581.9,250.0 593.3,256.0 604.7,261.5 616.2,267.5 627.6,275.0 639.0,282.0 650.5,290.0 661.9,297.5 673.3,305.0 684.8,313.0 696.2,321.0 707.6,329.0 719.1,336.5" fill="none" stroke="#000000" stroke-width="2.3" stroke-linejoin="round" stroke-linecap="round" stroke-dasharray="3,5.2" stroke-linecap="butt"/>
<polyline points="55.9,146.2 67.4,141.9 78.8,139.9 90.2,145.4 101.7,148.9 113.1,150.4 124.5,146.4 136.0,147.7 147.4,149.4 158.8,149.4 170.3,151.4 181.7,155.7 193.1,155.9 204.6,154.7 216.0,153.7 227.4,154.4 238.9,156.5 250.3,160.6 261.7,163.8 273.2,166.5 284.6,170.1 296.0,175.1 307.5,179.7 318.9,182.7 330.3,186.4 341.8,188.9 353.2,192.7 364.6,200.2 376.1,200.2 387.5,204.0 398.9,209.0 410.4,215.3 421.8,224.2 433.2,223.4 444.7,228.2 456.1,234.7 467.5,243.0 479.0,251.0 490.4,259.0 501.8,268.0" fill="none" stroke="#ff0000" stroke-width="3.8" stroke-linejoin="round" stroke-linecap="round" />
<line x1="501.5" y1="44.5" x2="501.5" y2="453.5" stroke="#969696" stroke-width="1"/>
<text x="506.3" y="270.8" font-size="6.8" fill="#ff7070">16.072</text>
<line x1="44.5" y1="44.5" x2="730.5" y2="44.5" stroke="#808080" stroke-width="1"/>
<line x1="44.5" y1="453.5" x2="730.5" y2="453.5" stroke="#808080" stroke-width="1"/>
<line x1="44.5" y1="44.5" x2="44.5" y2="453.5" stroke="#8a8a8a" stroke-width="1" stroke-dasharray="1.2,1.2"/>
<line x1="730.5" y1="44.5" x2="730.5" y2="453.5" stroke="#8a8a8a" stroke-width="1" stroke-dasharray="1.2,1.2"/>
<g stroke="#555" stroke-width="1"><line x1="40" y1="432.2" x2="44.5" y2="432.2"/><line x1="40" y1="378.8" x2="44.5" y2="378.8"/><line x1="40" y1="325.3" x2="44.5" y2="325.3"/><line x1="40" y1="271.9" x2="44.5" y2="271.9"/><line x1="40" y1="218.5" x2="44.5" y2="218.5"/><line x1="40" y1="165.1" x2="44.5" y2="165.1"/><line x1="40" y1="111.7" x2="44.5" y2="111.7"/><line x1="40" y1="58.3" x2="44.5" y2="58.3"/><line x1="44.5" y1="453.5" x2="44.5" y2="457.5"/><line x1="158.8" y1="453.5" x2="158.8" y2="457.5"/><line x1="273.2" y1="453.5" x2="273.2" y2="457.5"/><line x1="387.5" y1="453.5" x2="387.5" y2="457.5"/><line x1="501.8" y1="453.5" x2="501.8" y2="457.5"/><line x1="616.2" y1="453.5" x2="616.2" y2="457.5"/><line x1="730.5" y1="453.5" x2="730.5" y2="457.5"/></g>
<text transform="translate(35.6,432.2) rotate(-90)" font-size="6.8" text-anchor="middle" fill="#000">13</text>
<text transform="translate(35.6,378.8) rotate(-90)" font-size="6.8" text-anchor="middle" fill="#000">14</text>
<text transform="translate(35.6,325.3) rotate(-90)" font-size="6.8" text-anchor="middle" fill="#000">15</text>
<text transform="translate(35.6,271.9) rotate(-90)" font-size="6.8" text-anchor="middle" fill="#000">16</text>
<text transform="translate(35.6,218.5) rotate(-90)" font-size="6.8" text-anchor="middle" fill="#000">17</text>
<text transform="translate(35.6,165.1) rotate(-90)" font-size="6.8" text-anchor="middle" fill="#000">18</text>
<text transform="translate(35.6,111.7) rotate(-90)" font-size="6.8" text-anchor="middle" fill="#000">19</text>
<text transform="translate(35.6,58.3) rotate(-90)" font-size="6.8" text-anchor="middle" fill="#000">20</text>
<text x="44.1" y="468" font-size="6.6" text-anchor="middle" fill="#000">270</text>
<text x="158.4" y="468" font-size="6.6" text-anchor="middle" fill="#000">280</text>
<text x="272.8" y="468" font-size="6.6" text-anchor="middle" fill="#000">290</text>
<text x="387.1" y="468" font-size="6.6" text-anchor="middle" fill="#000">300</text>
<text x="501.4" y="468" font-size="6.6" text-anchor="middle" fill="#000">310</text>
<text x="615.8" y="468" font-size="6.6" text-anchor="middle" fill="#000">320</text>
<text x="730.1" y="468" font-size="6.6" text-anchor="middle" fill="#000">330</text>
<text transform="translate(19.8,248.8) rotate(-90)" font-size="6.7" text-anchor="middle" fill="#000">Ice Extent in millions of sq. km.</text>
<text x="387.1" y="484.1" font-size="6.5" text-anchor="middle" fill="#000">Day of Year</text>
<text x="387" y="491.8" font-size="6.4" text-anchor="middle" xml:space="preserve" fill="#000">Today's Ice Extent: 16.072  - Record for the day: 17.929 which occurred on 2013 11 6  - Mean: 17.05</text>
<text x="11" y="484.8" font-size="13.2" fill="#000">http://sunshinehours.wordpress.com</text>
<rect x="608.5" y="366.5" width="122" height="87" fill="none" stroke="#808080" stroke-width="1"/>
<line x1="614.4" y1="374.4" x2="626.2" y2="374.4" stroke="#ff0000" stroke-width="2.7" stroke-linecap="round"/>
<text x="631.7" y="376.7" font-size="6.5" fill="#222">2019</text>
<line x1="613" y1="382.4" x2="627.5" y2="382.4" stroke="#000" stroke-width="2" stroke-dasharray="4,4.3"/>
<text x="631.7" y="384.7" font-size="6.5" fill="#222">Mean 1981-2010</text>
<rect x="610.3" y="386.6" width="19.4" height="7.5" rx="3.7" fill="#d3d3d3"/>
<text x="631.7" y="392.6" font-size="6.5" fill="#222">1 Standard Deviation From Mean</text>
<line x1="613.3" y1="398.3" x2="627.2" y2="398.3" stroke="#000" stroke-width="2" stroke-linecap="butt"/>
<text x="631.7" y="400.6" font-size="6.5" fill="#222">2018</text>
<line x1="613.3" y1="406.2" x2="627.2" y2="406.2" stroke="#ffa500" stroke-width="2" stroke-linecap="butt"/>
<text x="631.7" y="408.5" font-size="6.5" fill="#222">2017</text>
<line x1="613.3" y1="414.2" x2="627.2" y2="414.2" stroke="#0000ff" stroke-width="2" stroke-linecap="butt"/>
<text x="631.7" y="416.5" font-size="6.5" fill="#222">2016</text>
<line x1="613.3" y1="422.2" x2="627.2" y2="422.2" stroke="#00ff00" stroke-width="2" stroke-linecap="butt"/>
<text x="631.7" y="424.5" font-size="6.5" fill="#222">2015</text>
<line x1="613.3" y1="430.1" x2="627.2" y2="430.1" stroke="#a020f0" stroke-width="2" stroke-linecap="butt"/>
<text x="631.7" y="432.4" font-size="6.5" fill="#222">2014</text>
<line x1="613.3" y1="438.1" x2="627.2" y2="438.1" stroke="#ffff00" stroke-width="2" stroke-linecap="butt"/>
<text x="631.7" y="440.4" font-size="6.5" fill="#222">2013</text>
<line x1="613.3" y1="446.5" x2="627.2" y2="446.5" stroke="#555" stroke-width="1" stroke-linecap="butt"/>
<text x="631.7" y="448.3" font-size="6.5" fill="#222">Every Other Year</text>
</svg></body></html>
